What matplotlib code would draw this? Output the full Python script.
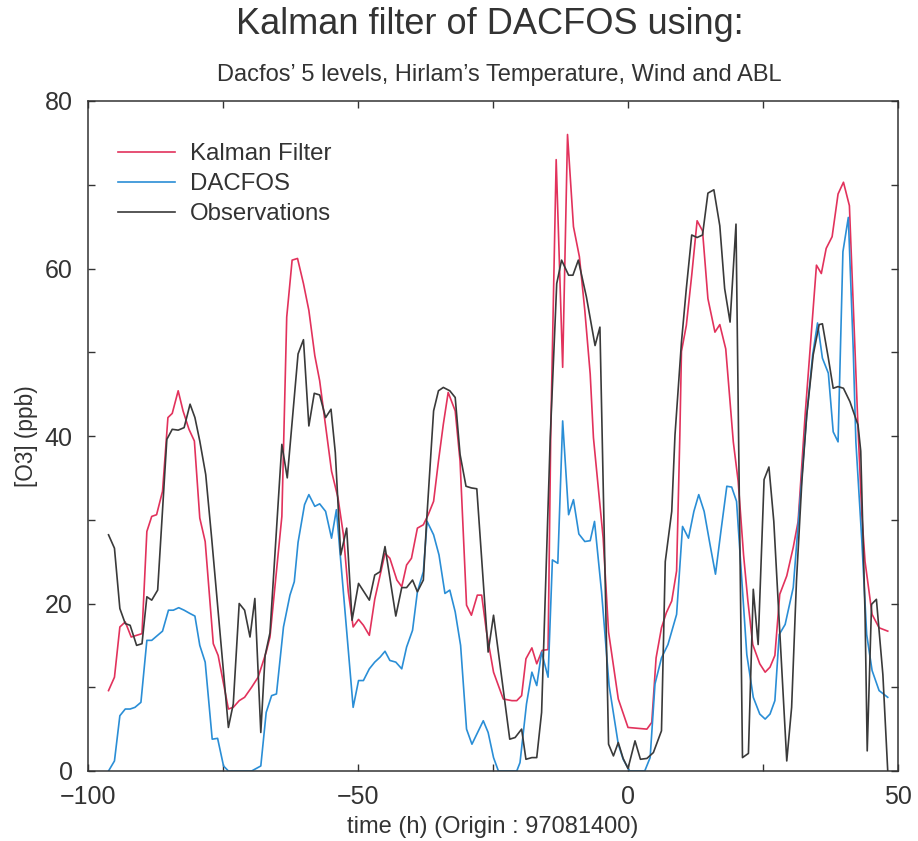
import matplotlib
matplotlib.use('Agg')
import matplotlib.pyplot as plt
from matplotlib.ticker import MultipleLocator

plt.rcParams['font.family'] = ['Liberation Sans', 'DejaVu Sans']
plt.rcParams['axes.unicode_minus'] = True

TEXT = '#333333'
RED = '#e2325c'
BLUE = '#2a8ed6'
BLACK = '#3a3a3a'

# (time in hours, [O3] in ppb)
kalman = [
    (-96.2, 9.6), (-95.1, 11.2), (-94.1, 17.2), (-93.1, 17.8), (-92.0, 16.0), (-91.0, 16.2),
    (-90.0, 16.4), (-89.1, 28.6), (-88.2, 30.4), (-87.3, 30.6), (-86.2, 33.4), (-85.2, 42.2),
    (-84.4, 42.7), (-83.3, 45.4), (-82.4, 43.0), (-81.3, 40.8), (-80.3, 39.4), (-79.3, 30.2),
    (-78.3, 27.4), (-76.8, 15.2), (-75.9, 13.8), (-74.0, 7.4), (-73.1, 7.6), (-72.0, 8.4),
    (-71.0, 8.8), (-69.7, 10.0), (-68.5, 11.2), (-67.0, 14.2), (-66.3, 16.0), (-65.1, 23.8),
    (-64.1, 30.4), (-63.2, 54.2), (-62.2, 61.0), (-61.2, 61.2), (-60.1, 58.2), (-59.1, 55.0),
    (-58.0, 49.6), (-57.1, 46.6), (-55.8, 40.2), (-54.9, 35.8), (-53.7, 32.6), (-52.7, 28.2),
    (-51.8, 21.4), (-50.9, 17.2), (-49.9, 18.1), (-49.0, 17.4), (-47.9, 16.2), (-46.9, 20.5),
    (-45.0, 26.0), (-44.1, 25.4), (-42.8, 22.8), (-41.9, 22.0), (-41.0, 24.6), (-40.1, 25.4),
    (-39.0, 29.0), (-37.9, 29.4), (-37.0, 30.6), (-36.0, 32.2), (-35.1, 37.0), (-34.2, 41.4),
    (-33.3, 45.2), (-32.0, 43.0), (-31.1, 37.0), (-29.9, 19.8), (-29.0, 18.6), (-27.9, 21.0),
    (-27.1, 21.0), (-26.2, 16.6), (-24.9, 11.8), (-23.1, 8.6), (-21.5, 8.4), (-20.6, 8.4),
    (-19.7, 9.0), (-18.9, 13.4), (-17.8, 14.7), (-16.9, 12.8), (-15.9, 14.4), (-14.8, 14.5),
    (-14.3, 40.6), (-13.3, 73.0), (-12.1, 48.2), (-11.2, 76.0), (-10.1, 65.0), (-9.0, 61.4),
    (-8.0, 55.0), (-7.0, 47.4), (-6.4, 39.8), (-4.6, 27.8), (-3.6, 16.6), (-1.8, 8.6),
    (0.0, 5.2), (3.5, 5.0), (4.4, 5.8), (5.2, 13.5), (6.2, 17.1), (7.1, 18.9),
    (8.1, 20.3), (9.0, 23.9), (9.6, 40.1), (9.9, 50.1), (10.8, 53.2), (11.8, 59.2),
    (12.8, 65.7), (13.8, 64.5), (14.8, 56.4), (16.1, 52.4), (17.0, 53.3), (18.1, 50.4),
    (19.5, 39.3), (20.4, 34.6), (21.4, 25.8), (22.2, 20.3), (23.1, 15.1), (24.4, 12.8),
    (25.4, 11.8), (26.3, 12.4), (27.2, 13.8), (28.1, 21.1), (29.4, 23.3), (30.6, 26.7),
    (31.5, 29.8), (32.8, 42.5), (34.9, 60.4), (35.8, 59.4), (36.7, 62.4), (37.8, 63.8),
    (38.9, 68.9), (39.9, 70.3), (41.0, 67.5), (42.6, 40.9), (43.3, 30.6), (43.9, 25.0),
    (45.2, 18.7), (46.5, 17.1), (48.1, 16.7),
]

dacfos = [
    (-96.2, 0.0), (-95.1, 1.2), (-94.1, 6.6), (-93.1, 7.4), (-92.2, 7.4), (-91.3, 7.6),
    (-90.2, 8.2), (-89.1, 15.6), (-88.2, 15.6), (-87.1, 16.2), (-86.2, 16.7), (-85.1, 19.2),
    (-84.2, 19.2), (-83.2, 19.5), (-82.2, 19.2), (-81.1, 18.8), (-80.2, 18.5), (-79.3, 15.0),
    (-78.3, 13.0), (-77.0, 3.8), (-76.0, 3.9), (-74.9, 0.6), (-74.0, 0.0), (-69.7, 0.0),
    (-68.0, 0.6), (-67.0, 7.0), (-66.0, 9.0), (-65.1, 9.2), (-63.8, 17.2), (-62.6, 21.0),
    (-61.8, 22.6), (-61.1, 27.3), (-59.9, 31.8), (-59.1, 33.0), (-58.0, 31.6), (-57.1, 31.9),
    (-56.0, 31.0), (-54.9, 27.8), (-54.0, 31.2), (-50.9, 7.6), (-49.9, 10.8), (-49.0, 10.8),
    (-47.9, 12.2), (-46.9, 13.0), (-45.9, 13.6), (-45.0, 14.3), (-44.1, 13.2), (-43.0, 13.0),
    (-41.9, 12.2), (-41.0, 14.8), (-39.9, 16.8), (-39.0, 21.4), (-37.9, 23.8), (-37.2, 29.8),
    (-36.0, 28.2), (-35.0, 25.8), (-33.9, 21.2), (-33.0, 21.6), (-32.0, 19.0), (-31.0, 15.0),
    (-29.9, 5.0), (-28.9, 3.2), (-27.7, 4.8), (-26.8, 6.0), (-25.9, 4.6), (-24.9, 1.6),
    (-24.0, 0.0), (-20.6, 0.0), (-20.0, 1.0), (-18.8, 8.0), (-17.8, 11.8), (-16.9, 10.2),
    (-16.0, 14.2), (-14.8, 11.2), (-14.0, 25.2), (-13.0, 24.8), (-12.1, 41.8), (-11.0, 30.6),
    (-10.1, 32.4), (-9.1, 28.3), (-8.0, 27.4), (-7.0, 27.5), (-6.2, 29.8), (-4.9, 21.4),
    (-3.5, 10.2), (-1.8, 3.2), (-0.9, 1.4), (0.3, 0.0), (3.1, 0.0), (4.1, 1.6),
    (5.0, 10.4), (6.2, 13.5), (7.4, 15.1), (9.0, 18.7), (10.1, 29.2), (11.2, 27.8),
    (12.2, 31.0), (13.1, 33.0), (14.1, 31.0), (15.2, 27.0), (16.2, 23.5), (17.2, 28.6),
    (18.3, 34.0), (19.2, 33.9), (20.1, 32.2), (22.0, 13.9), (23.2, 8.8), (24.4, 6.8),
    (25.4, 6.2), (26.3, 6.8), (27.2, 8.4), (28.0, 16.3), (29.1, 17.5), (30.6, 21.9),
    (33.1, 42.5), (34.2, 49.7), (35.1, 53.5), (36.0, 49.3), (37.1, 47.5), (38.0, 40.5),
    (38.9, 39.3), (39.8, 62.0), (40.8, 66.1), (41.7, 50.5), (42.2, 39.3), (43.3, 27.5),
    (44.2, 16.3), (45.2, 12.0), (46.5, 9.6), (48.1, 8.8),
]

observations = [
    (-96.2, 28.2), (-95.1, 26.6), (-94.1, 19.4), (-93.1, 17.6), (-92.2, 17.4), (-91.0, 15.0),
    (-90.0, 15.2), (-89.1, 20.8), (-88.2, 20.4), (-87.1, 21.6), (-85.4, 39.6), (-84.4, 40.8),
    (-83.3, 40.7), (-82.2, 41.0), (-81.1, 43.8), (-80.2, 42.2), (-79.3, 39.4), (-78.2, 35.4),
    (-77.1, 27.8), (-75.9, 19.0), (-74.0, 5.2), (-73.1, 8.0), (-72.0, 20.0), (-71.0, 19.2),
    (-70.0, 16.0), (-69.1, 20.6), (-68.0, 4.6), (-67.2, 13.8), (-66.3, 16.5), (-64.1, 39.0),
    (-63.1, 35.0), (-61.1, 49.8), (-60.1, 51.5), (-59.1, 41.2), (-58.1, 45.1), (-57.1, 44.9),
    (-56.0, 42.2), (-55.0, 43.2), (-54.2, 38.0), (-53.2, 25.8), (-52.1, 29.0), (-51.1, 18.0),
    (-49.9, 22.4), (-47.9, 20.4), (-46.9, 23.4), (-45.9, 23.8), (-45.0, 26.8), (-43.0, 18.5),
    (-41.9, 21.9), (-41.0, 21.9), (-39.9, 22.8), (-39.0, 21.4), (-37.9, 22.8), (-37.3, 29.8),
    (-36.0, 43.0), (-35.1, 45.4), (-34.2, 45.8), (-33.0, 45.4), (-32.0, 44.6), (-31.1, 37.8),
    (-30.0, 34.0), (-29.0, 33.8), (-28.0, 33.7), (-25.9, 14.2), (-24.9, 18.6), (-21.9, 3.8),
    (-20.9, 4.0), (-19.7, 5.0), (-18.9, 1.4), (-17.8, 1.6), (-16.9, 1.6), (-16.0, 7.0),
    (-14.4, 39.8), (-13.2, 58.2), (-12.3, 61.0), (-11.0, 59.2), (-10.2, 59.2), (-9.2, 61.0),
    (-7.7, 56.6), (-6.1, 50.8), (-5.2, 53.0), (-3.6, 3.2), (-2.7, 1.8), (-1.8, 3.4),
    (-0.9, 1.5), (0.0, 0.3), (1.3, 3.6), (2.3, 1.4), (3.5, 1.5), (4.7, 2.2),
    (6.2, 4.8), (6.9, 25.0), (8.1, 31.0), (8.7, 40.1), (9.9, 51.2), (10.8, 57.6),
    (11.8, 64.0), (12.8, 63.7), (13.8, 64.0), (14.8, 69.0), (15.9, 69.4), (17.0, 65.1),
    (17.9, 57.6), (18.9, 53.6), (20.0, 65.3), (21.2, 1.6), (22.3, 2.1), (23.2, 21.7),
    (24.1, 15.1), (25.2, 34.8), (26.1, 36.3), (27.0, 29.8), (29.4, 1.2), (30.3, 7.6),
    (31.2, 22.7), (32.2, 34.6), (33.1, 42.5), (34.3, 49.7), (35.4, 53.3), (36.0, 53.4),
    (37.1, 49.3), (38.0, 45.7), (38.9, 45.9), (39.9, 45.7), (41.1, 44.1), (42.6, 41.3),
    (43.1, 38.2), (43.9, 18.7), (44.3, 2.4), (45.1, 19.9), (46.0, 20.5), (47.2, 11.5),
    (48.1, 0.0),
]

series = [
    ('Kalman Filter', kalman, RED),
    ('DACFOS', dacfos, BLUE),
    ('Observations', observations, BLACK),
]

fig = plt.figure(figsize=(9.18, 8.41), dpi=100)
ax = fig.add_axes([88 / 918, 70 / 841, 810 / 918, 670 / 841])

for label, pts, color in series:
    t, v = zip(*pts)
    ax.plot(t, v, color=color, linewidth=1.2, label=label)

ax.set_xlim(-100, 50)
ax.set_ylim(0, 80)
ax.xaxis.set_major_locator(MultipleLocator(50))
ax.xaxis.set_minor_locator(MultipleLocator(25))
ax.yaxis.set_major_locator(MultipleLocator(20))
ax.yaxis.set_minor_locator(MultipleLocator(10))
ax.tick_params(which='both', direction='in', top=True, right=True,
               length=5, width=1.0, color=TEXT)
ax.tick_params(axis='x', labelsize=18, pad=10, labelcolor=TEXT)
ax.tick_params(axis='y', labelsize=18, pad=11, labelcolor=TEXT)
for sp in ax.spines.values():
    sp.set_color(TEXT)
    sp.set_linewidth(1.1)

ax.set_xlabel('time (h) (Origin : 97081400)', fontsize=17, color=TEXT, labelpad=5)
ax.set_ylabel('[O3] (ppb)', fontsize=16.3, color=TEXT, labelpad=5)

leg = ax.legend(loc='upper left', bbox_to_anchor=(0.037, 0.937), frameon=False,
                fontsize=17.3, handlelength=2.36, handletextpad=0.62,
                labelspacing=0.33, borderaxespad=0, borderpad=0)
for txt in leg.get_texts():
    txt.set_color(TEXT)

fig.text(0.534, 1 - 25 / 841, 'Kalman filter of DACFOS using:', fontsize=26,
         color=TEXT, ha='center', va='center')
fig.text(0.5436, 1 - 75 / 841, 'Dacfos\u2019 5 levels, Hirlam\u2019s Temperature, Wind and ABL',
         fontsize=17, color=TEXT, ha='center', va='center')

fig.savefig('out.png', dpi=100)
